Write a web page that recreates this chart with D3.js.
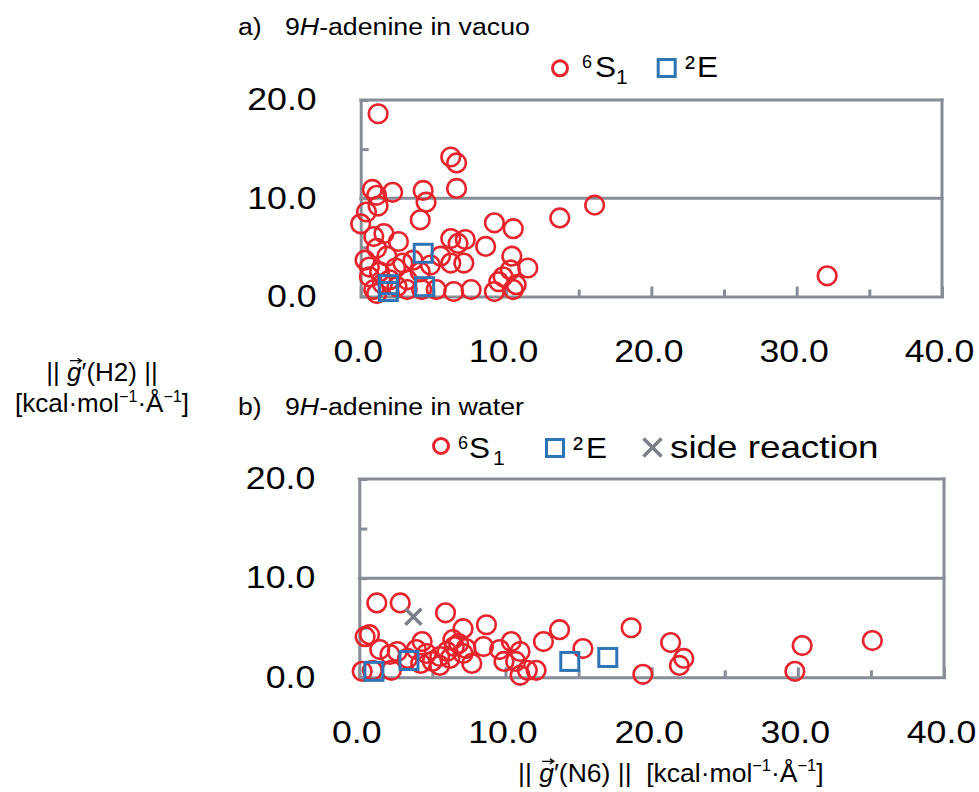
<!DOCTYPE html>
<html><head><meta charset="utf-8">
<script src="https://cdn.jsdelivr.net/npm/d3@7"></script>
<style>
body{margin:0;background:#fff}
svg{display:block}
text{font-family:"Liberation Sans",Arial,sans-serif;fill:#000}
</style>
</head><body>
<svg id="c" width="979" height="792"></svg>
<script>
// ---------------- data ----------------
const xTickAll = [0,5,10,15,20,25,30,35,40];
const xTickLabels = [0,10,20,30,40];
const yTickAll = [0,5,10,15,20];
const yTickLabels = [0,10,20];
const yGridValues = [10,20];

// panel a: 9H-adenine in vacuo  [x = ||g'(N6)||, y = ||g'(H2)||]
const vacuoS1 = [
 [1.2,18.6],[6.2,14.2],[6.6,13.6],[6.6,11.0],[0.8,10.9],[1.1,10.3],[2.2,10.6],[4.3,10.8],
 [4.5,9.6],[1.2,9.2],[0.4,8.6],[0.0,7.4],[4.1,7.8],[9.2,7.5],[10.5,6.9],[13.7,8.0],[16.1,9.3],
 [32.1,2.1],[0.9,6.1],[1.6,6.4],[2.6,5.6],[6.2,5.9],[6.7,5.4],[7.2,5.8],[8.6,5.1],[0.3,3.7],
 [1.1,4.9],[1.8,4.1],[2.9,3.4],[3.6,3.7],[5.5,4.1],[6.2,3.4],[7.1,3.4],[10.4,4.1],[10.3,2.7],
 [11.5,2.9],[9.8,2.0],[9.5,1.5],[10.7,1.2],[10.5,0.7],[9.2,0.5],[7.6,0.7],[6.4,0.5],[5.2,0.7],
 [4.1,2.5],[4.8,3.2],[3.2,0.7],[2.5,1.0],[0.9,0.7],[0.6,2.0],[0.6,3.0],[1.3,2.5],[2.0,1.7],
 [1.1,0.3],[3.2,1.7],[4.2,0.7],[1.5,1.3],[2.4,2.9]
];
const vacuoE = [[4.3,4.4],[1.9,1.2],[1.9,0.5],[4.4,1.0]];

// panel b: 9H-adenine in water
const waterS1 = [
 [1.2,7.5],[2.8,7.5],[5.9,6.5],[0.4,4.1],[0.7,4.3],[7.1,4.9],[8.7,5.3],[4.3,3.6],[12.6,3.6],
 [13.7,4.8],[15.3,2.9],[10.4,3.6],[11.0,2.6],[8.5,3.1],[6.4,3.8],[6.5,3.1],[6.0,2.6],[5.5,2.1],
 [7.1,2.4],[7.7,1.4],[5.5,1.2],[4.2,1.4],[2.1,2.3],[1.4,2.8],[2.6,2.6],[2.2,0.7],[0.2,0.6],
 [4.6,2.4],[3.9,2.8],[9.9,1.6],[10.7,1.6],[11.0,0.2],[11.5,0.7],[12.1,0.7],[9.6,2.8],[5.0,1.6],
 [6.2,1.9],[6.8,3.4],[7.3,2.9],[0.9,0.7],[3.3,1.9],[18.6,5.0],[19.4,0.3],[21.3,3.5],[22.2,1.9],
 [21.9,1.2],[30.3,3.2],[29.8,0.6],[35.1,3.7]
];
const waterE = [[1.0,0.6],[3.4,1.7],[14.4,1.6],[17.0,2.0]];
const waterSide = [[3.7,6.1]];

// ---------------- style ----------------
const AX = "#878D97", RED = "#E8232B", BLUE = "#2E75B6", GRAY = "#7B7F87";
const svg = d3.select("#c");

function txt(parent, x, y, str, opt = {}) {
  const size = opt.size || 30, sx = opt.sx || 1, anchor = opt.anchor || "start";
  const g = parent.append("g").attr("transform", `translate(${x},${y}) scale(${sx},1)`);
  const t = g.append("text").attr("text-anchor", anchor).attr("font-size", size);
  if (opt.family) t.attr("font-family", opt.family);
  if (opt.style) t.attr("font-style", opt.style);
  if (str != null) t.text(str);
  return {g, t};
}
function units(t, size) {
  t.append("tspan").text("[kcal·mol");
  t.append("tspan").attr("font-size", size * 0.62).attr("dy", -size * 0.4).text("−1");
  t.append("tspan").attr("dy", size * 0.4).text("·Å");
  t.append("tspan").attr("font-size", size * 0.62).attr("dy", -size * 0.4).text("−1");
  t.append("tspan").attr("dy", size * 0.4).text("]");
}
function gnorm(o, atom, size, tail) {
  const t = o.t;
  t.append("tspan").text("|| ");
  t.append("tspan").attr("font-style", "italic").text("g");
  t.append("tspan").text("′(" + atom + ") ||" + (tail || ""));
  const e = t.node().getExtentOfChar(3);
  const x0 = e.x + e.width * 0.2, x1 = e.x + e.width * 1.0, ya = -size * 0.78;
  o.g.append("path")
    .attr("d", `M${x0},${ya}H${x1}M${x1 - 4},${ya - 2.5}L${x1},${ya}L${x1 - 4},${ya + 2.5}`)
    .attr("fill", "none").attr("stroke", "#000").attr("stroke-width", 1.3);
}

function panel(cfg) {
  const x = d3.scaleLinear().domain([0, 40]).range(cfg.xr);
  const y = d3.scaleLinear().domain([0, 20]).range(cfg.yr);
  const g = svg.append("g");
  const SX = 1.17;

  g.selectAll("line.grid").data(yGridValues).join("line").attr("class", "grid")
    .attr("x1", x(0)).attr("x2", x(40)).attr("y1", d => y(d)).attr("y2", d => y(d))
    .attr("stroke", AX).attr("stroke-width", 3).attr("stroke-linecap", "square");
  g.append("line").attr("x1", x(40)).attr("x2", x(40)).attr("y1", y(0)).attr("y2", y(20))
    .attr("stroke", AX).attr("stroke-width", 3).attr("stroke-linecap", "square");

  const xa = d3.axisBottom(x).tickValues(xTickAll).tickSizeInner(-10).tickSizeOuter(0)
    .tickPadding(44).tickFormat(d => xTickLabels.includes(d) ? d3.format(".1f")(d) : "");
  const gx = g.append("g").attr("transform", `translate(0,${y(0)})`).call(xa);
  gx.select(".domain").attr("stroke", AX).attr("stroke-width", 3).attr("stroke-linecap", "square");
  gx.selectAll(".tick line").attr("stroke", AX).attr("stroke-width", 3)
    .attr("y2", d => d % 10 === 0 ? -10 : -7);
  gx.selectAll(".tick text").attr("font-size", 30.5).attr("fill", "#000")
    .attr("font-family", '"Liberation Sans",Arial,sans-serif')
    .attr("transform", `translate(-3,0) scale(${SX},1)`);

  const ya = d3.axisLeft(y).tickValues(yTickAll).tickSizeInner(-8).tickSizeOuter(0)
    .tickPadding(44).tickFormat(d => yTickLabels.includes(d) ? d3.format(".1f")(d) : "");
  const gy = g.append("g").attr("transform", `translate(${x(0)},0)`).call(ya);
  gy.select(".domain").attr("stroke", AX).attr("stroke-width", 3).attr("stroke-linecap", "square");
  gy.selectAll(".tick line").attr("stroke", AX).attr("stroke-width", 3);
  gy.selectAll(".tick text").attr("font-size", 30.5).attr("fill", "#000")
    .attr("font-family", '"Liberation Sans",Arial,sans-serif')
    .attr("x", 0).attr("transform", `translate(-44,0) scale(${SX},1)`);

  g.append("g").selectAll("circle").data(cfg.s1).join("circle")
    .attr("cx", d => x(d[0])).attr("cy", d => y(d[1])).attr("r", 9.3)
    .attr("fill", "none").attr("stroke", RED).attr("stroke-width", 2.6);
  g.append("g").selectAll("rect").data(cfg.e).join("rect")
    .attr("x", d => x(d[0]) - 9).attr("y", d => y(d[1]) - 9).attr("width", 18).attr("height", 18)
    .attr("fill", "none").attr("stroke", BLUE).attr("stroke-width", 3);
  if (cfg.side) {
    g.append("g").selectAll("path").data(cfg.side).join("path")
      .attr("transform", d => `translate(${x(d[0])},${y(d[1])})`)
      .attr("d", "M-8,-8L8,8M-8,8L8,-8")
      .attr("stroke", GRAY).attr("stroke-width", 3.5).attr("fill", "none");
  }
}

panel({xr: [360.7, 942], yr: [296.5, 100], s1: vacuoS1, e: vacuoE});
panel({xr: [359.3, 944], yr: [677.3, 479], s1: waterS1, e: waterE, side: waterSide});

// ---------------- titles ----------------
function title(lbl, rest, y) {
  txt(svg, 238, y, lbl, {size: 24.5, sx: 1.09});
  const o = txt(svg, 285, y, null, {size: 24.5, sx: 1.09});
  o.t.append("tspan").text("9"); o.t.append("tspan").attr("font-style", "italic").text("H");
  o.t.append("tspan").text(rest);
}
title("a)", "-adenine in vacuo", 35);
title("b)", "-adenine in water", 415);

// ---------------- legends ----------------
function legS1(cx, cy, base, x6, xS, x1) {
  svg.append("circle").attr("cx", cx).attr("cy", cy).attr("r", 7.5)
    .attr("fill", "none").attr("stroke", RED).attr("stroke-width", 3);
  txt(svg, x6, base - 9, "6", {size: 18, sx: 1.0});
  txt(svg, xS, base, "S", {size: 30, sx: 1.05});
  txt(svg, x1, base + 7, "1", {size: 20, sx: 1.05, family: '"DejaVu Serif","Liberation Serif",serif'});
}
function legE(cx, cy, base, x2, xE) {
  svg.append("rect").attr("x", cx - 8.5).attr("y", cy - 8.5).attr("width", 17).attr("height", 17)
    .attr("fill", "none").attr("stroke", BLUE).attr("stroke-width", 3);
  txt(svg, x2, base, "²", {size: 30, sx: 1.0});
  txt(svg, xE, base, "E", {size: 30, sx: 1.05});
}
legS1(560, 68.3, 77, 582, 595, 616);
legE(666.7, 68, 77, 685, 697);
legS1(441, 446, 458, 458, 469, 493);
legE(555, 448, 458, 573, 586);
svg.append("path").attr("transform", "translate(652.5,447.5)")
  .attr("d", "M-9,-9L9,9M-9,9L9,-9").attr("stroke", GRAY).attr("stroke-width", 3.5).attr("fill", "none");
txt(svg, 670, 458, "side reaction", {size: 32, sx: 1.15});

// ---------------- axis titles ----------------
{ const o = txt(svg, 102, 381, null, {size: 26, sx: 1.0, anchor: "middle"}); gnorm(o, "H2", 26); }
{ const o = txt(svg, 102, 412, null, {size: 26, sx: 1.0, anchor: "middle"}); units(o.t, 26); }
{ const o = txt(svg, 518, 782, null, {size: 26.5, sx: 1.0});
  gnorm(o, "N6", 26.5, "\u00A0\u00A0");
  units(o.t, 26.5); }
</script>
</body></html>
